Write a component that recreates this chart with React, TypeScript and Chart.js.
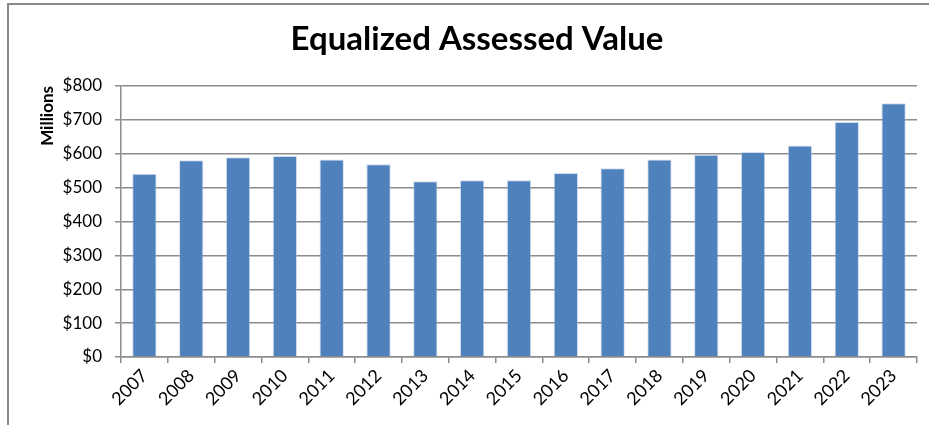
import React, { useEffect, useRef } from "react";
import { Chart, registerables } from "chart.js";

Chart.register(...registerables);

const TITLE = "Equalized Assessed Value";
const Y_TITLE = "Millions";
const years = ["2007","2008","2009","2010","2011","2012","2013","2014","2015","2016","2017","2018","2019","2020","2021","2022","2023"];
const values = [541, 581, 590, 593, 583, 569, 519, 522, 522, 543, 557, 583, 597, 605, 624, 694, 749];
const yMin = 0;
const yMax = 800;
const yStep = 100;

const GRID = "#8c8c8c";
const FONT = "Lato";

const titlePlugin = {
  id: "customTitle",
  afterDraw(chart: any) {
    const ctx = chart.ctx;
    ctx.save();
    ctx.font = `bold 33px ${FONT}`;
    ctx.fillStyle = "#000";
    ctx.textAlign = "center";
    ctx.textBaseline = "alphabetic";
    ctx.fillText(TITLE, 477, 50);
    ctx.restore();
  },
};

export default function App() {
  const ref = useRef<HTMLCanvasElement | null>(null);
  useEffect(() => {
    if (!ref.current) return;
    const chart = new Chart(ref.current, {
      type: "bar",
      data: {
        labels: years,
        datasets: [
          {
            data: values,
            backgroundColor: "#4F81BD",
            borderColor: "rgba(180,200,230,0.6)",
            borderWidth: 1,
            barPercentage: 0.52,
            categoryPercentage: 1,
          },
        ],
      },
      options: {
        animation: false,
        responsive: false,
        devicePixelRatio: 1,
        layout: { padding: { top: 86, right: 12, bottom: 0, left: 0 } },
        plugins: { legend: { display: false }, title: { display: false }, tooltip: { enabled: false } },
        scales: {
          x: {
            offset: true,
            grid: { offset: true, drawOnChartArea: false, drawTicks: true, tickLength: 6, color: GRID, lineWidth: 1.5 },
            border: { display: true, color: GRID, width: 1.5 },
            ticks: {
              minRotation: 45,
              maxRotation: 45,
              autoSkip: false,
              padding: 2,
              color: "#000",
              font: { family: FONT, size: 18 },
            },
            afterFit(scale: any) {
              scale.height = 68;
            },
          },
          y: {
            min: yMin,
            max: yMax,
            grid: { drawTicks: true, tickLength: 6, color: GRID, lineWidth: 1.5 },
            border: { display: true, color: GRID, width: 1.5 },
            ticks: {
              stepSize: yStep,
              padding: 13,
              color: "#000",
              font: { family: FONT, size: 17 },
              callback: (v: any) => "$" + v,
            },
            title: {
              display: true,
              text: Y_TITLE,
              align: "end",
              color: "#000",
              font: { family: FONT, size: 17, weight: "bold" },
              padding: { top: 37, bottom: 0 },
            },
            afterFit(scale: any) {
              scale.width = 121;
            },
          },
        },
      },
      plugins: [titlePlugin],
    });
    return () => chart.destroy();
  }, []);

  return (
    <div style={{ position: "fixed", left: 0, top: 0, width: 929, height: 425, overflow: "hidden", background: "#fff" }}>
      <div
        style={{
          position: "absolute",
          left: 7,
          top: 3,
          width: 1000,
          height: 600,
          border: "2px solid #8a8a8a",
        }}
      />
      <canvas ref={ref} width={929} height={425} style={{ position: "absolute", left: 0, top: 0 }} />
    </div>
  );
}
